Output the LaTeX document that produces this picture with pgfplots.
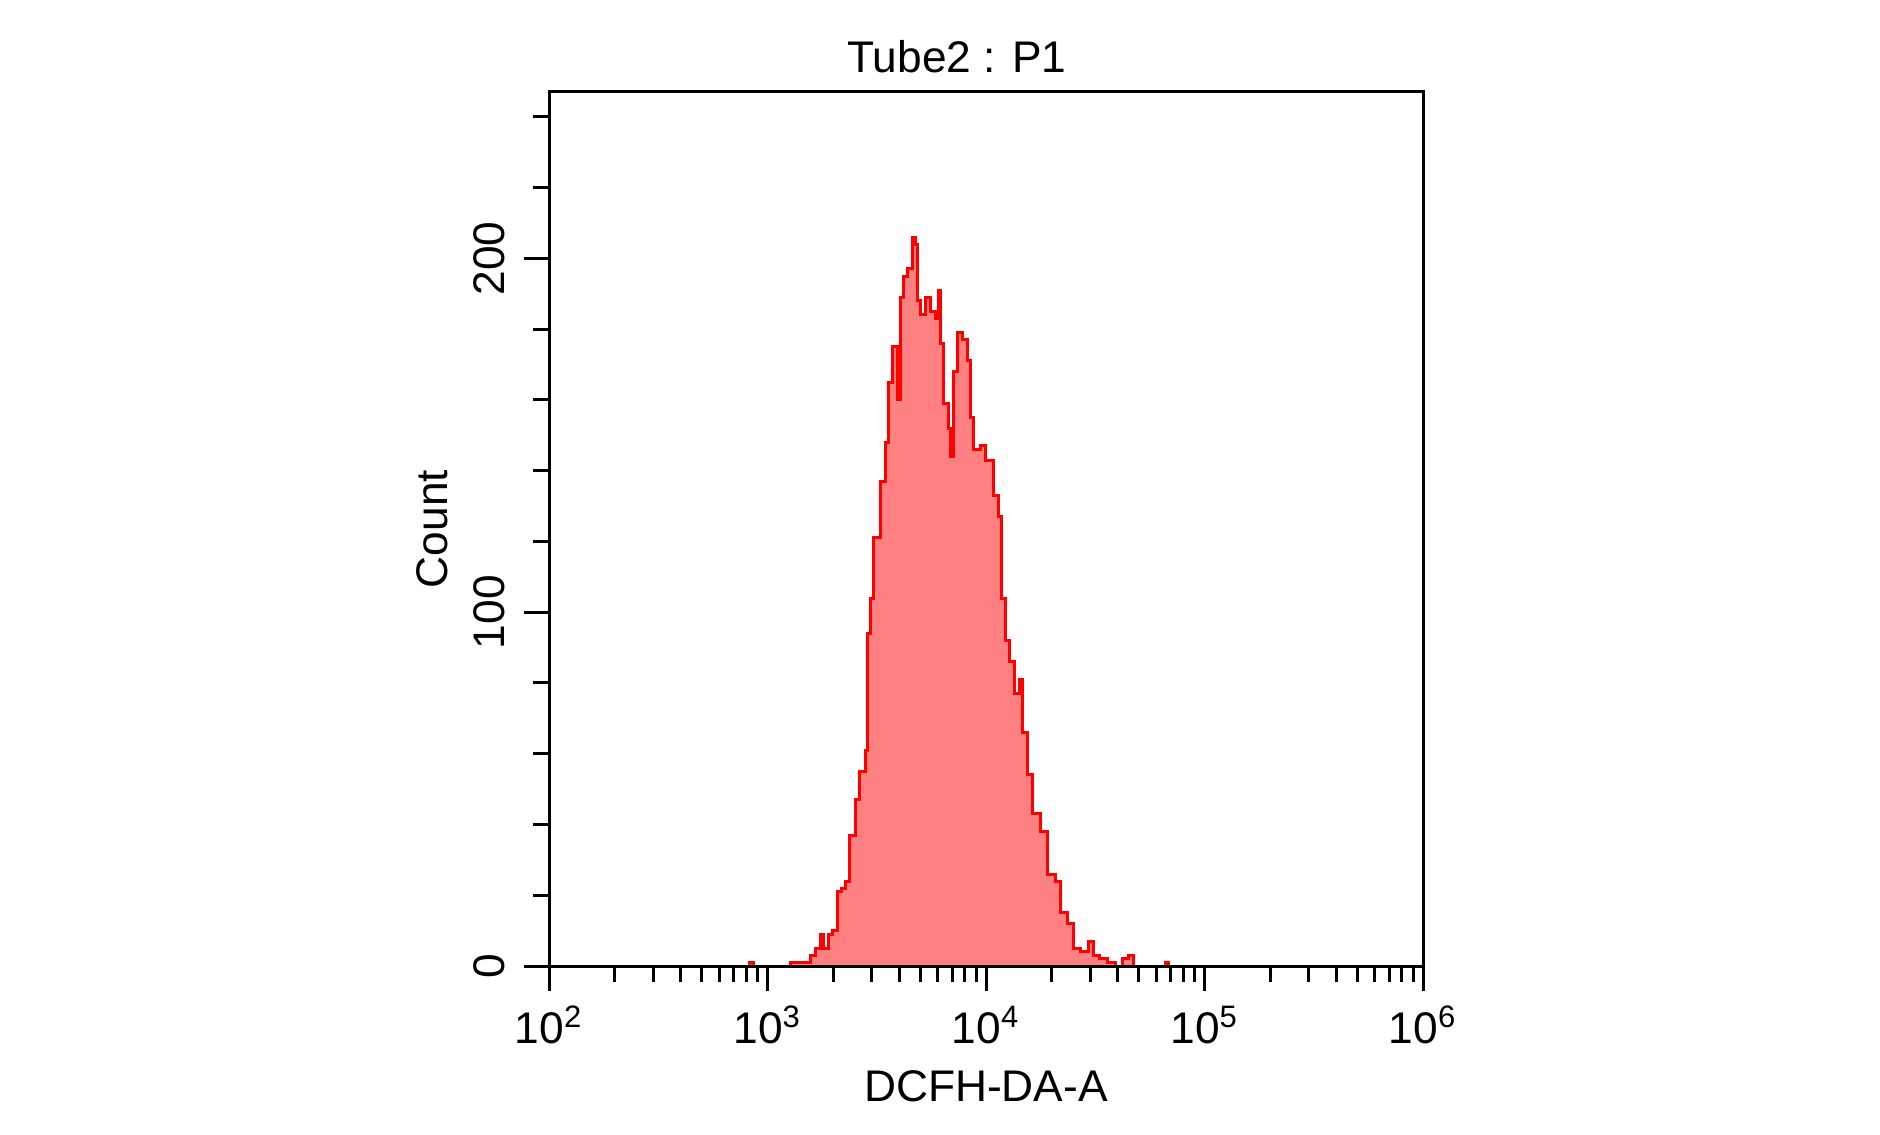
\documentclass[border=0pt]{standalone}
\usepackage{pgfplots}
\pgfplotsset{compat=1.18}
\usepackage{fontspec}
\setmainfont{Liberation Sans}
\definecolor{histline}{RGB}{255,0,0}
\definecolor{histfill}{RGB}{255,128,128}
\pgfplotstableread{
x y
700 0
815 0
823 1
859 0
1268 1
1408 1
1484 1
1565 3
1650 5
1739 9
1795 5
1892 9
1994 10
2080 21
2170 22
2263 24
2385 37
2515 47
2650 55
2795 61
2855 94
2946 104
3040 121
3273 137
3450 148
3561 165
3714 175
3915 160
4041 189
4171 195
4350 197
4585 206
4733 204
4834 188
4989 184
5259 189
5543 185
5842 183
6030 191
6159 176
6357 159
6701 152
6843 144
7063 168
7444 179
7846 177
8186 171
8450 155
8720 146
9387 147
9894 143
10654 143
10765 133
11347 127
11834 104
12343 92
12875 86
13571 77
14305 81
14763 66
15561 54
16403 43
17665 38
19023 26
20697 24
21816 15
23494 12
25024 5
26936 4
29302 7
30886 3
33238 2
36158 1
38940 0
41935 2
44668 3
47084 0
65957 1
68077 0
100000 0
}\histdata
\begin{document}
\fontsize{12.6}{15}\selectfont
\begin{tikzpicture}
\path[use as bounding box] (-54.9mm,-16.8mm) rectangle (133.1mm,96.6mm);
\begin{axis}[
  at={(0,0)}, anchor=south west,
  width=87.4mm, height=87.4mm, scale only axis,
  xmode=log, xmin=100, xmax=1000000,
  ymin=0, ymax=247,
  xtick={100,1000,10000,100000,1000000},
  xticklabels={10\textsuperscript{2},10\textsuperscript{3},10\textsuperscript{4},10\textsuperscript{5},10\textsuperscript{6}},
  minor xtick={200,300,400,500,600,700,800,900,2000,3000,4000,5000,6000,7000,8000,9000,20000,30000,40000,50000,60000,70000,80000,90000,200000,300000,400000,500000,600000,700000,800000,900000},
  ytick={0,100,200}, yticklabels={0,100,200},
  minor ytick={20,40,60,80,120,140,160,180,220,240},
  tick pos=left, tick align=outside,
  major tick length=2.5mm, minor tick length=1.6mm,
  axis line style={line width=0.3mm, black},
  every tick/.style={line width=0.3mm, black},
  axis on top,
  xticklabel style={anchor=base, inner sep=0pt},
  xticklabel shift=5.2mm,
  yticklabel style={rotate=90, anchor=south, inner sep=0pt},
  yticklabel shift=1.8mm,
  title={Tube2 : P1},
  title style={at={([xshift=-2.9mm,yshift=-0.2mm]axis description cs:0.5,1)}, anchor=base, inner sep=0pt},
  xlabel={DCFH-DA-A},
  xlabel style={at={([yshift=-13.5mm]axis description cs:0.5,0)}, anchor=base, inner sep=0pt},
  ylabel={Count},
  ylabel style={at={([xshift=-11.7mm]axis description cs:0,0.5)}, anchor=center, inner sep=0pt},
]
\addplot[const plot mark left, draw=histline, fill=histfill, line width=0.3mm] table[x=x,y=y] {\histdata} \closedcycle;
\end{axis}
\end{tikzpicture}
\end{document}
